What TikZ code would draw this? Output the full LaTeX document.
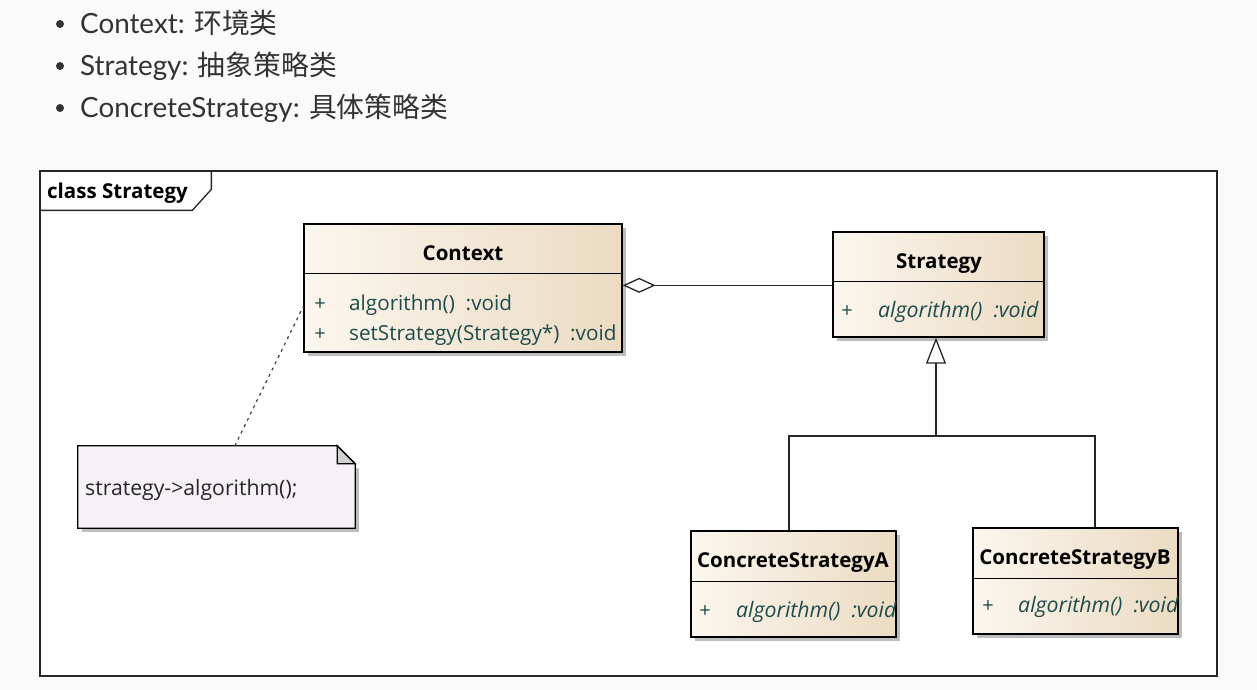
\documentclass[tikz,border=0pt]{standalone}
\usepackage{fontspec}
\setmainfont{Open Sans}
\newfontfamily\lato{Lato}
\newfontfamily\cjk{Noto Sans CJK SC}
\usetikzlibrary{arrows.meta, calc, shadows}

\definecolor{pagebg}{HTML}{FAFAFA}
\definecolor{clsleft}{HTML}{FBF6EE}
\definecolor{clsright}{HTML}{EBDBC2}
\definecolor{opcolor}{HTML}{1E4B4B}
\definecolor{notefill}{HTML}{F6F1F6}
\definecolor{itemtext}{HTML}{333333}
\definecolor{shadowgray}{HTML}{BDBDBD}

\tikzset{
  cls/.style={draw, line width=1.3pt, left color=clsleft, right color=clsright, inner sep=0pt,
    drop shadow={shadow xshift=4pt, shadow yshift=-4pt, fill=shadowgray, opacity=1}},
  clsname/.style={font=\fontsize{20.5}{24}\selectfont\bfseries, anchor=base, inner sep=0pt},
  plus/.style={font=\fontsize{20}{24}\selectfont, text=opcolor, anchor=base, inner sep=0pt},
  op/.style={font=\fontsize{20.7}{24}\selectfont, text=opcolor, anchor=base west, inner sep=0pt},
  absop/.style={op, font=\fontsize{21.3}{24}\selectfont\itshape},
  item/.style={font=\lato\fontsize{27.8}{32}\selectfont, text=itemtext, anchor=base west, inner sep=0pt},
  link/.style={line width=1.3pt, draw=black!85},
}

\begin{document}
\begin{tikzpicture}[x=1pt, y=-1pt]
  \useasboundingbox (0,0) rectangle (1257,689);
  \fill[pagebg] (0,0) rectangle (1257,689);

  \node[circle, fill=itemtext, inner sep=0pt, minimum size=8pt] (dot1) at (60,24) {};
  \node[circle, fill=itemtext, inner sep=0pt, minimum size=8pt] (dot2) at (60,66) {};
  \node[circle, fill=itemtext, inner sep=0pt, minimum size=8pt] (dot3) at (60,108) {};
  \node[item] (item1) at (80,33) {Context: {\cjk 环境类}};
  \node[item] (item2) at (80,75) {Strategy: {\cjk 抽象策略类}};
  \node[item] (item3) at (80,117) {ConcreteStrategy: {\cjk 具体策略类}};

  \node[draw=black!85, fill=white, line width=1.3pt, inner sep=0pt, minimum width=1177pt, minimum height=505pt] (frame) at (628.5,423.5) {};
  \draw[link] ($(frame.north west)+(0,40)$) -- ($(frame.north west)+(153,40)$) -- ($(frame.north west)+(172,19)$) -- ($(frame.north west)+(172,0)$);
  \node[clsname, anchor=base west] (tab) at (47,198) {class Strategy};

  \node[cls, minimum width=318pt, minimum height=128pt] (context) at (463,288) {};
  \draw[line width=1.3pt] ($(context.north west)+(0,50)$) -- ($(context.north east)+(0,50)$);
  \node[clsname] (contextname) at (463,260) {Context};
  \node[plus] (contextplus1) at (320,310) {+};
  \node[op] (contextop1) at (349,310) {algorithm()\ \ :void};
  \node[plus] (contextplus2) at (320,340) {+};
  \node[op] (contextop2) at (349,340) {setStrategy(Strategy*)\ \ :void};

  \node[cls, minimum width=211pt, minimum height=105pt] (strategy) at (938.5,284.5) {};
  \draw[line width=1.3pt] ($(strategy.north west)+(0,50)$) -- ($(strategy.north east)+(0,50)$);
  \node[clsname] (strategyname) at (939,268) {Strategy};
  \node[plus] (strategyplus) at (847,317) {+};
  \node[absop] (strategyop) at (878,317) {algorithm()\ \ :void};

  \node[cls, minimum width=205pt, minimum height=106pt] (concreteA) at (793.5,584) {};
  \draw[line width=1.3pt] ($(concreteA.north west)+(0,51)$) -- ($(concreteA.north east)+(0,51)$);
  \node[clsname] (concreteAname) at (793,567) {ConcreteStrategyA};
  \node[plus] (concreteAplus) at (705,617) {+};
  \node[absop] (concreteAop) at (736,617) {algorithm()\ \ :void};

  \node[cls, minimum width=205pt, minimum height=106pt] (concreteB) at (1075.5,581) {};
  \draw[line width=1.3pt] ($(concreteB.north west)+(0,51)$) -- ($(concreteB.north east)+(0,51)$);
  \node[clsname] (concreteBname) at (1075,564) {ConcreteStrategyB};
  \node[plus] (concreteBplus) at (988,612) {+};
  \node[absop] (concreteBop) at (1018,612) {algorithm()\ \ :void};

  \node[inner sep=0pt, minimum width=277pt, minimum height=82pt] (note) at (216.5,487) {};
  \fill[shadowgray] ($(note.north east)+(4,22)$) rectangle ($(note.south west)+(4,4)$);
  \filldraw[fill=notefill, draw=black, line width=1.3pt] (note.north west) -- ($(note.north east)+(-18,0)$) -- ($(note.north east)+(0,18)$) -- (note.south east) -- (note.south west) -- cycle;
  \filldraw[fill=black!18, draw=black, line width=1.3pt] ($(note.north east)+(-18,0)$) -- ($(note.north east)+(-18,18)$) -- ($(note.north east)+(0,18)$) -- cycle;
  \node[op, text=black!85, font=\fontsize{21.2}{24}\selectfont] (notetext) at (85,495) {strategy->algorithm();};

  \draw[link, {Diamond[fill=white, length=33pt, width=15pt]}-] ($(context.north east)+(0,62)$) -- ($(strategy.north west)+(0,54)$);

  \coordinate (join) at (936,436);
  \coordinate (joinA) at (789,436);
  \coordinate (joinB) at (1095,436);
  \draw[link, -{Triangle[open, length=26pt, width=20pt]}] (join) -- (join |- strategy.south);
  \draw[link] (joinA |- concreteA.north) -- (joinA) -- (joinB) -- (joinB |- concreteB.north);

  \draw[link, dash pattern=on 3pt off 4pt, draw=black!70] ($(note.north west)+(157,0)$) -- ($(context.north west)+(0,83)$);
\end{tikzpicture}
\end{document}
